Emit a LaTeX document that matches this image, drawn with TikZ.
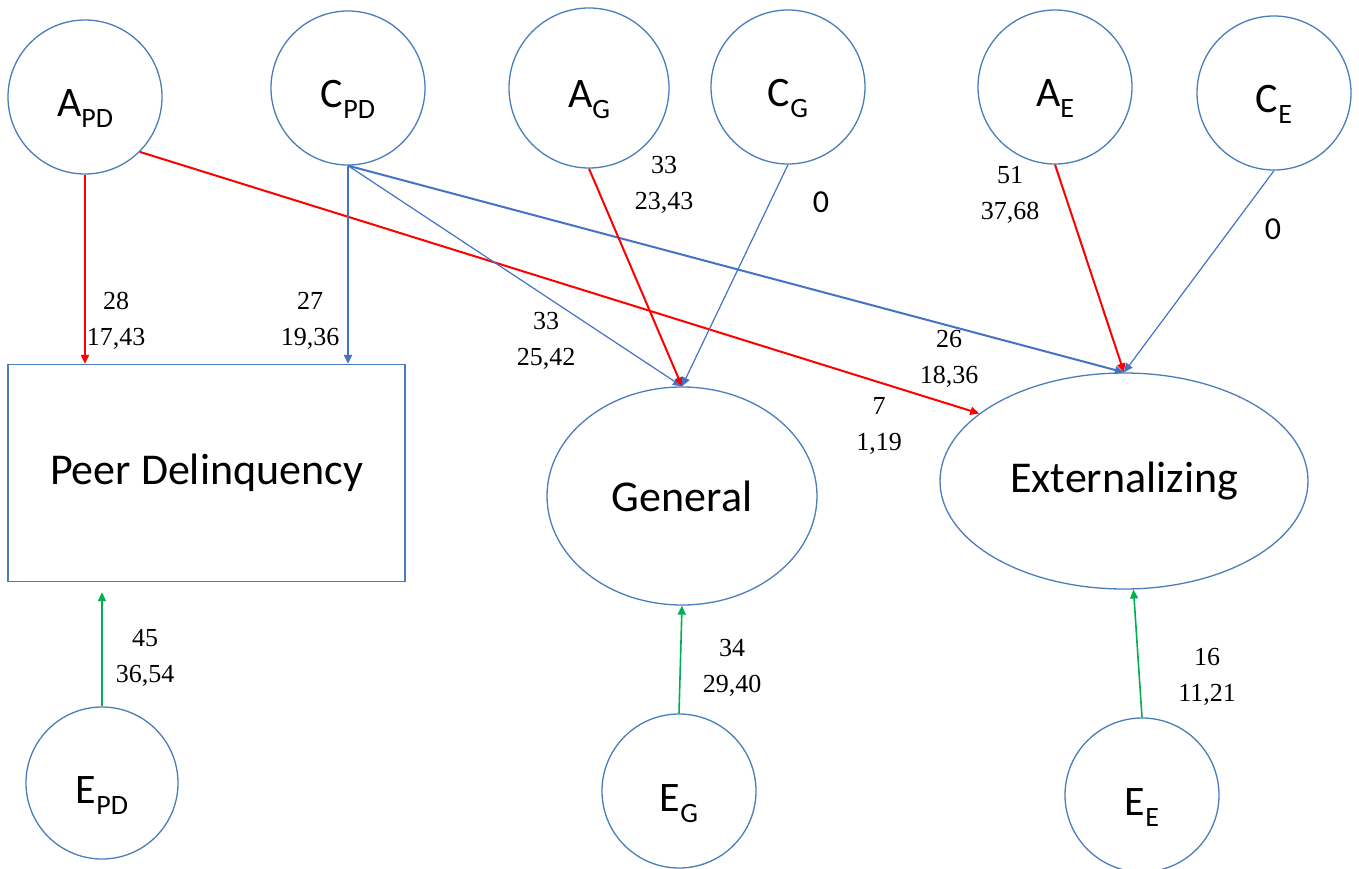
\documentclass[tikz,border=0pt]{standalone}
\usepackage{fontspec}
\setmainfont{Liberation Serif}
\newfontfamily\carl{Carlito}
\usetikzlibrary{arrows.meta,shapes.geometric}
\definecolor{circ}{HTML}{4A7EBB}
\definecolor{bluearr}{HTML}{4472C4}
\definecolor{redarr}{HTML}{FF0000}
\definecolor{greenarr}{HTML}{00B050}
\newcommand\subtxt[1]{\raisebox{-11pt}{\fontsize{28}{28}\selectfont #1}}
\tikzset{
  latent/.style={circle, draw=circ, line width=1.3pt, minimum size=154pt, inner sep=0pt,
    text height=40pt, text depth=0pt, font=\carl\fontsize{42}{42}\selectfont},
  factor/.style={ellipse, draw=circ, line width=1.3pt, inner sep=0pt,
    font=\carl\fontsize{44}{44}\selectfont},
  obsbox/.style={rectangle, draw=circ, line width=1.3pt, inner sep=0pt,
    font=\carl\fontsize{44}{44}\selectfont},
  tip/.style={-{Triangle[length=9pt,width=8pt]}},
  redline/.style={tip, draw=redarr, line width=2pt},
  bluethick/.style={tip, draw=bluearr, line width=2pt},
  bluethin/.style={tip, draw=bluearr, line width=1.2pt},
  greenline/.style={tip, draw=greenarr, line width=1.6pt},
  est/.style={align=center, inner sep=0pt, font=\fontsize{26}{36}\selectfont},
  zero/.style={inner sep=0pt, font=\carl\fontsize{32}{32}\selectfont}
}
\begin{document}
\begin{tikzpicture}[x=1pt,y=-1pt]
\useasboundingbox (0,0) rectangle (1359,869);

% latent circles
\node[latent] (apd) at (85,97)   {A\subtxt{PD}};
\node[latent] (cpd) at (348,88)  {C\subtxt{PD}};
\node[latent, minimum size=160pt] (ag) at (589,88) {A\subtxt{G}};
\node[latent] (cg)  at (788,87)  {C\subtxt{G}};
\node[latent] (ae)  at (1055,87) {A\subtxt{E}};
\node[latent] (ce)  at (1274,93) {C\subtxt{E}};
\node[latent, minimum size=152pt] (epd) at (102,783) {E\subtxt{PD}};
\node[latent] (eg)  at (679,791) {E\subtxt{G}};
\node[latent] (ee)  at (1142,795) {E\subtxt{E}};

% observed and factors
\node[obsbox, minimum width=397pt, minimum height=217pt] (pd) at (206.5,473) {Peer Delinquency};
\node[factor, minimum width=270pt, minimum height=218pt] (gen) at (682,496) {General};
\node[factor, minimum width=368pt, minimum height=216pt] (ext) at (1124,481) {Externalizing};

% paths
\draw[redline] (apd.south) -- (apd.south |- pd.north);
\draw[redline] (apd.-45) -- (ext.155.7);
\draw[bluethick] (cpd.south) -- (cpd.south |- pd.north);
\draw[bluethin] (cpd.south) -- (gen.north);
\draw[bluethick] (cpd.south) -- (ext.north);
\draw[redline] (ag.south) -- (gen.north);
\draw[bluethin] (cg.south) -- (gen.north);
\draw[redline] (ae.south) -- (ext.north);
\draw[bluethin] (ce.south) -- (ext.north);
\draw[greenline, shorten >=10pt] (epd.north) -- (epd.north |- pd.south);
\draw[greenline] (eg.north) -- (gen.south);
\draw[greenline] (ee.north) -- (ext.-85);

% estimates
\node[est] (l1) at (116,321) {28\\17,43};
\node[est] (l2) at (310,321) {27\\19,36};
\node[est] (l3) at (664,185) {33\\23,43};
\node[zero] (l4) at (821,202) {0};
\node[est] (l5) at (546,341) {33\\25,42};
\node[est] (l6) at (879,426) {7\\1,19};
\node[est] (l7) at (949,359) {26\\18,36};
\node[est] (l8) at (1010,195) {51\\37,68};
\node[zero] (l9) at (1273,229) {0};
\node[est] (l10) at (145,658) {45\\36,54};
\node[est] (l11) at (732,668) {34\\29,40};
\node[est] (l12) at (1207,677) {16\\11,21};
\end{tikzpicture}
\end{document}
